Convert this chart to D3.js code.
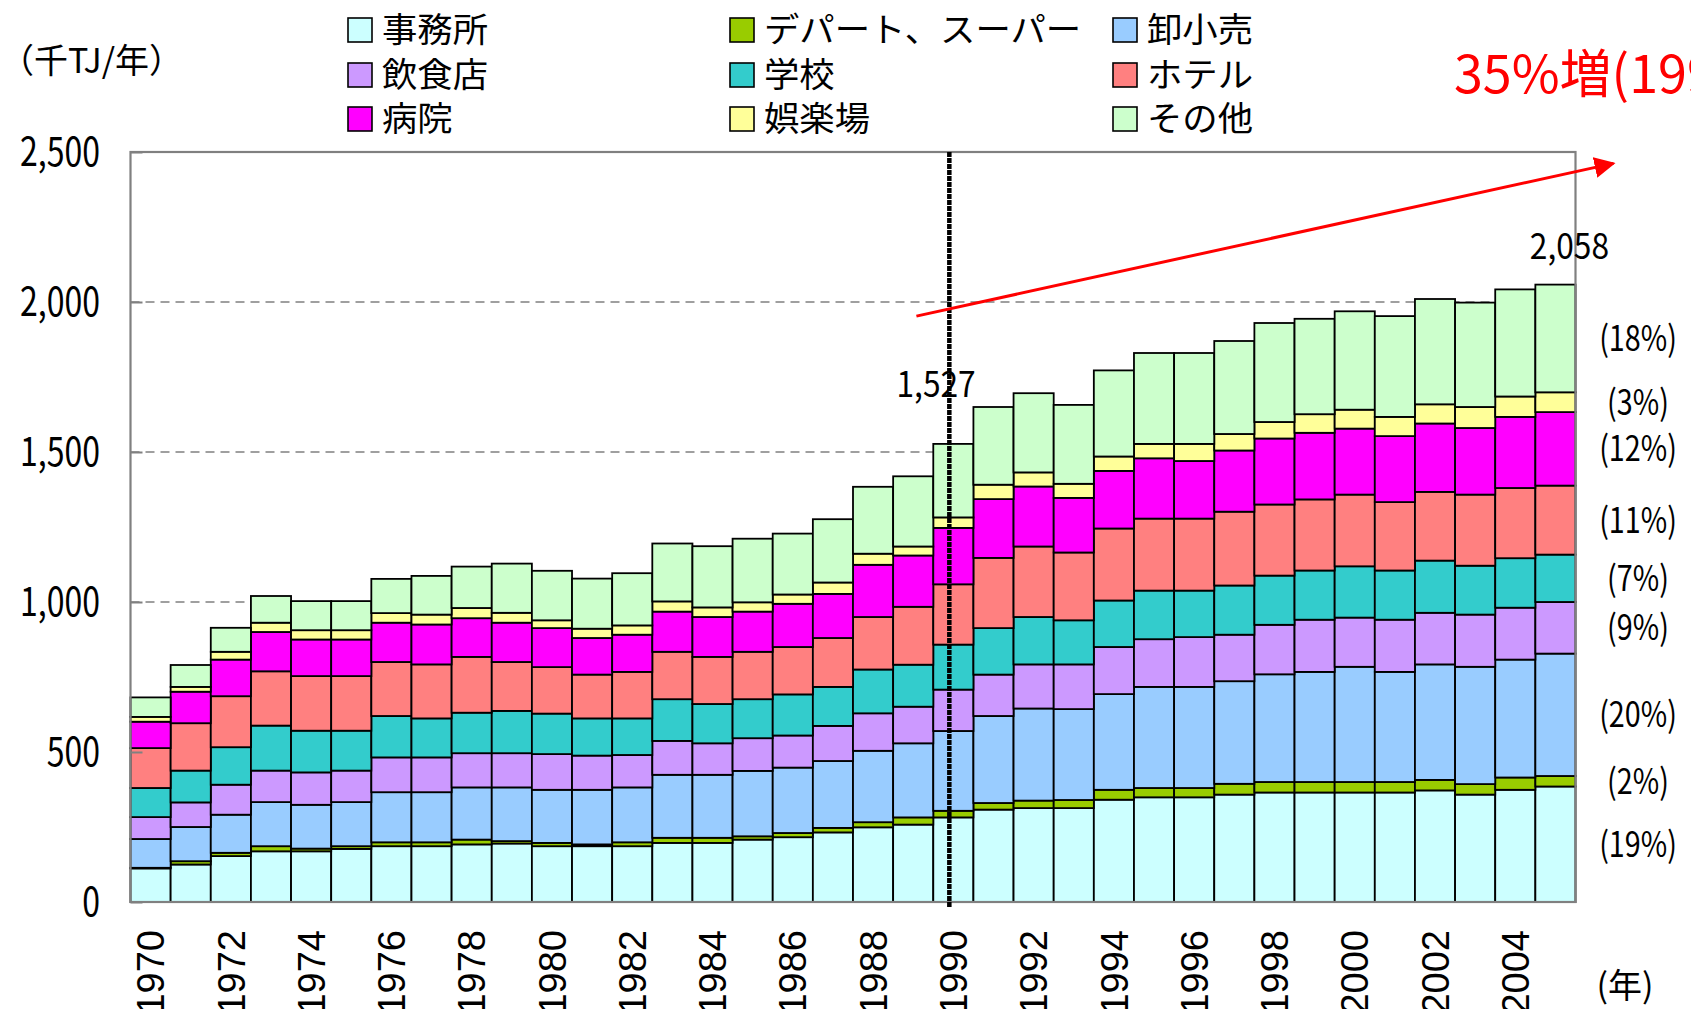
<!DOCTYPE html>
<html lang="ja">
<head>
<meta charset="utf-8">
<script src="https://cdn.jsdelivr.net/npm/d3@7/dist/d3.min.js"></script>
<style>
	body { margin: 0; background: #ffffff; }
	svg text { font-family: 'Noto Sans CJK JP', 'Noto Sans', sans-serif; fill: #000; }
</style>
</head>
<body>
<script>
'use strict';

const years = [1970, 1971, 1972, 1973, 1974, 1975, 1976, 1977, 1978, 1979,
	1980, 1981, 1982, 1983, 1984, 1985, 1986, 1987, 1988, 1989,
	1990, 1991, 1992, 1993, 1994, 1995, 1996, 1997, 1998, 1999,
	2000, 2001, 2002, 2003, 2004, 2005];

const seriesNames = ['事務所', 'デパート、スーパー', '卸小売', '飲食店', '学校', 'ホテル', '病院', '娯楽場', 'その他'];
const seriesColors = ['#CCFFFF', '#99CC00', '#99CCFF', '#CC99FF', '#33CCCC', '#FF8080', '#FF00FF', '#FFFF99', '#CCFFCC'];

const offices     = [112,125,153,169,169,177,186,186,192,195,186,186,186,197,197,208,216,232,249,258,282,308,313,313,341,349,349,358,365,365,365,365,372,358,374,385];
const depts       = [2,11,11,17,9,9,13,13,16,8,11,6,13,17,17,11,14,15,17,24,22,22,25,27,33,31,31,36,35,35,35,35,35,35,41,35];
const retail      = [96,114,127,147,146,147,167,167,174,179,177,182,183,210,210,218,218,223,238,247,266,290,307,303,319,337,337,342,359,367,384,367,385,391,393,408];
const restaurants = [73,82,100,105,108,105,116,116,114,114,119,114,108,113,105,109,107,117,125,122,138,138,147,149,157,159,166,155,165,174,164,174,172,174,173,172];
const schools     = [97,106,125,150,139,133,138,130,135,141,135,124,122,139,131,130,137,130,146,140,150,155,158,147,155,162,155,164,164,164,171,164,174,163,165,158];
const hotels      = [133,158,170,181,182,182,180,180,186,163,155,146,155,158,157,158,158,163,175,193,201,234,235,226,240,240,240,246,237,237,239,228,229,237,234,230];
const hospitals   = [88,105,122,131,122,122,131,133,129,131,130,122,124,134,133,134,144,147,174,171,188,196,200,182,192,201,192,204,220,222,220,220,228,222,237,245];
const amusement   = [16,16,26,31,31,31,32,33,34,33,26,31,31,34,32,31,31,38,37,30,35,48,47,47,48,48,57,55,55,62,63,64,64,70,68,66];
const others      = [65,73,80,89,97,97,114,129,138,164,165,167,174,193,204,212,203,211,223,234,245,259,264,263,287,303,303,310,330,318,328,336,351,348,357,359];

const shareLabels = ['(19%)', '(2%)', '(20%)', '(9%)', '(7%)', '(11%)', '(12%)', '(3%)', '(18%)'];
const yTicks = [0, 500, 1000, 1500, 2000, 2500];
const gridTicks = [1000, 1500, 2000];
const markedValues = [1527, 2058];

const DIM = {
	width: 1691,
	height: 1009,
	left: 130.5,
	top: 152,
	right: 1575.5,
	bottom: 902
};

const seriesValues = [offices, depts, retail, restaurants, schools, hotels, hospitals, amusement, others];
let table = years.map((yr, i) => {
	let row = { year: yr };
	seriesNames.forEach((name, s) => { row[name] = seriesValues[s][i]; });
	return row;
});

let stacked = d3.stack().keys(seriesNames)(table);

let x = d3.scaleBand().domain(years).range([DIM.left, DIM.right]).padding(0);
let y = d3.scaleLinear().domain([0, 2500]).range([DIM.bottom, DIM.top]);
let color = d3.scaleOrdinal().domain(seriesNames).range(seriesColors);

// squeeze a text horizontally, the source font is a narrow gothic
function squeeze(sel, k) {
	sel.each(function() {
		let w = this.getComputedTextLength();
		d3.select(this).attr('textLength', w * k).attr('lengthAdjust', 'spacingAndGlyphs');
	});
}

let svg = d3.select('body').append('svg')
	.attr('width', DIM.width)
	.attr('height', DIM.height);

// dashed grid lines behind the bars
svg.append('g').selectAll('line')
	.data(gridTicks)
	.enter()
	.append('line')
	.attr('x1', DIM.left).attr('x2', DIM.right)
	.attr('y1', (d) => y(d)).attr('y2', (d) => y(d))
	.attr('stroke', '#808080')
	.attr('stroke-width', 1.5)
	.attr('stroke-dasharray', '9,6');

// stacked bars
let layers = svg.append('g').selectAll('g')
	.data(stacked)
	.enter()
	.append('g')
	.attr('fill', (d) => color(d.key));

layers.selectAll('rect')
	.data((d) => d)
	.enter()
	.append('rect')
	.attr('x', (d) => x(d.data.year))
	.attr('width', x.bandwidth())
	.attr('y', (d) => y(d[1]))
	.attr('height', (d) => y(d[0]) - y(d[1]))
	.attr('stroke', '#000')
	.attr('stroke-width', 1.8);

// plot frame
svg.append('rect')
	.attr('x', DIM.left).attr('y', DIM.top)
	.attr('width', DIM.right - DIM.left).attr('height', DIM.bottom - DIM.top)
	.attr('fill', 'none')
	.attr('stroke', '#808080')
	.attr('stroke-width', 2.2);

// y axis, ticks pointing inside
let yAxis = d3.axisRight(y).tickValues(yTicks).tickSize(12).tickFormat('');
svg.append('g')
	.attr('transform', 'translate(' + DIM.left + ',0)')
	.call(yAxis)
	.call((g) => g.select('.domain').remove())
	.call((g) => g.selectAll('line').attr('stroke', '#808080').attr('stroke-width', 2));

svg.append('g').selectAll('text')
	.data(yTicks)
	.enter()
	.append('text')
	.attr('x', 100)
	.attr('y', (d) => y(d))
	.attr('dy', '0.36em')
	.attr('text-anchor', 'end')
	.style('font-size', '40px')
	.text((d) => d3.format(',')(d))
	.call(squeeze, 0.8);

// x labels, every other year, rotated (the bottom is cut by the frame, as in the source)
svg.append('g').selectAll('text')
	.data(years.filter((d) => d % 2 == 0))
	.enter()
	.append('text')
	.attr('transform', (d) => 'translate(' + (x(d) + x.bandwidth() / 2) + ',930) rotate(-90)')
	.attr('dy', '0.36em')
	.attr('text-anchor', 'end')
	.style('font-family', "'Liberation Sans', Arial, sans-serif")
	.style('font-size', '38px')
	.text((d) => d);

// 1990 reference line
let x1990 = x(1990) + x.bandwidth() * 0.4;
svg.append('line')
	.attr('x1', x1990).attr('x2', x1990)
	.attr('y1', DIM.top).attr('y2', DIM.bottom + 5)
	.attr('stroke', '#000')
	.attr('stroke-width', 4.5)
	.attr('stroke-dasharray', '5,1');

// red arrow
let defs = svg.append('defs');
defs.append('marker')
	.attr('id', 'arrow')
	.attr('viewBox', '0 0 10 10')
	.attr('refX', 9).attr('refY', 5)
	.attr('markerWidth', 7).attr('markerHeight', 7)
	.attr('orient', 'auto')
	.append('path')
	.attr('d', 'M0,0 L10,5 L0,10 Z')
	.attr('fill', '#FF0000');

svg.append('line')
	.attr('x1', x(1989) + x.bandwidth() * 0.58).attr('y1', y(1953))
	.attr('x2', DIM.right + 38).attr('y2', y(2462))
	.attr('stroke', '#FF0000')
	.attr('stroke-width', 3)
	.attr('marker-end', 'url(#arrow)');

svg.append('text')
	.attr('x', 1454).attr('y', 93)
	.style('fill', '#FF0000')
	.style('font-size', '52px')
	.text('35%増(1990年比)');

// totals
svg.append('text')
	.attr('x', x(1990) + x.bandwidth() * 0.07)
	.attr('y', y(markedValues[0]) - 47)
	.attr('text-anchor', 'middle')
	.style('font-size', '36px')
	.text(d3.format(',')(markedValues[0]))
	.call(squeeze, 0.88);

svg.append('text')
	.attr('x', x(2005) + x.bandwidth() / 2 + 14)
	.attr('y', y(markedValues[1]) - 26)
	.attr('text-anchor', 'middle')
	.style('font-size', '36px')
	.text(d3.format(',')(markedValues[1]))
	.call(squeeze, 0.88);

// shares of 2005, at the middle of each segment
let last = stacked.map((layer) => layer[layer.length - 1]);
svg.append('g').selectAll('text')
	.data(last)
	.enter()
	.append('text')
	.attr('x', 1638)
	.attr('y', (d) => y((d[0] + d[1]) / 2))
	.attr('dy', '0.36em')
	.attr('text-anchor', 'middle')
	.style('font-size', '35px')
	.text((d, i) => shareLabels[i])
	.call(squeeze, 0.82);

// unit labels
svg.append('text')
	.attr('x', 0).attr('y', 61)
	.attr('dy', '0.36em')
	.style('font-size', '34px')
	.text('（千TJ/年）');

svg.append('text')
	.attr('x', 1625).attr('y', 986)
	.attr('dy', '0.36em')
	.attr('text-anchor', 'middle')
	.style('font-size', '34px')
	.text('(年)');

// legend, 3 x 3, row major
const legendCols = [348, 730, 1113];
const legendRows = [30, 75, 119];
let legend = svg.append('g').selectAll('g')
	.data(seriesNames)
	.enter()
	.append('g')
	.attr('transform', (d, i) => 'translate(' + legendCols[i % 3] + ',' + legendRows[Math.floor(i / 3)] + ')');

legend.append('rect')
	.attr('x', 0).attr('y', -12)
	.attr('width', 24).attr('height', 24)
	.attr('fill', (d) => color(d))
	.attr('stroke', '#000')
	.attr('stroke-width', 1.6);

legend.append('text')
	.attr('x', 34)
	.attr('dy', '0.36em')
	.style('font-size', '34px')
	.text((d) => d)
	.call(squeeze, 1.04);
</script>
</body>
</html>
